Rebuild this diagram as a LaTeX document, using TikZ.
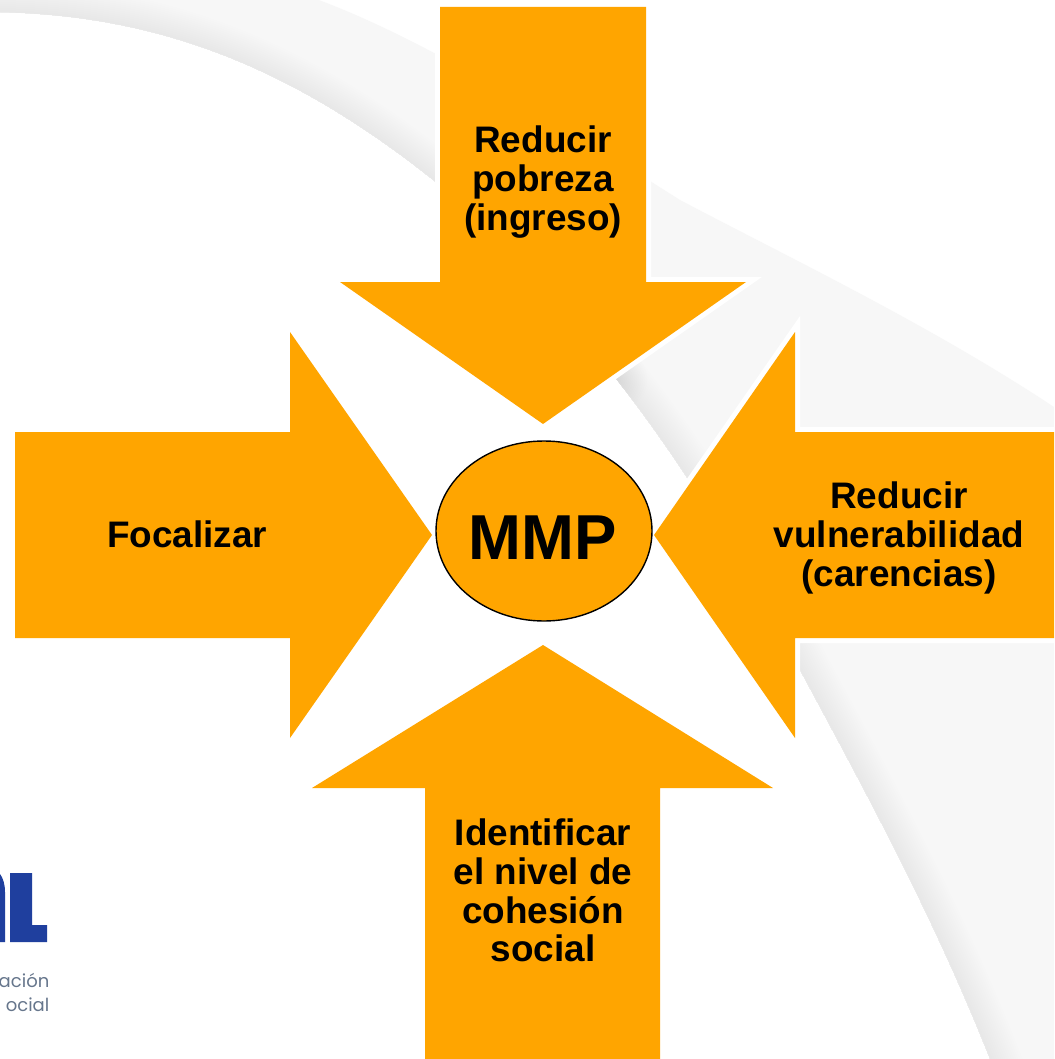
\documentclass[tikz,border=0pt]{standalone}
\usepackage{fontspec}
\setmainfont{Liberation Sans}
\newfontfamily\logofont{Poppins}
\definecolor{orangearrow}{HTML}{FFA500}
\definecolor{bandgrey}{HTML}{F7F7F7}
\definecolor{edgegrey}{HTML}{D8D8D8}
\definecolor{logoblue}{HTML}{1F3F9E}
\definecolor{logotext}{HTML}{66768C}
\tikzset{
  bigarrow/.style={fill=orangearrow,draw=none},
  halo/.style={draw=white,line width=10pt,miter limit=10},
  lbl/.style={font=\bfseries\fontsize{36.9}{38.7}\selectfont,align=center,text=black,inner sep=0pt},
  logolbl/.style={font=\logofont\fontsize{18}{25}\selectfont,text=logotext,anchor=east,inner sep=0pt},
  edgefade/.style={draw=edgegrey,line cap=round,line join=round}
}
\newcommand{\lowerA}{(-20,12) .. controls (130,12) and (270,50) .. (433,180) .. controls (500,233) and (560,310) .. (617,380)}
\newcommand{\lowerB}{(617,380) .. controls (680,460) and (745,565) .. (800,670) .. controls (870,800) and (935,920) .. (990,1059) -- (1010,1110)}
\newcommand{\arrowT}{(440,7) -- (646,7) -- (646,282) -- (746,282) -- (543,424) -- (340,282) -- (440,282) -- cycle}
\newcommand{\arrowL}{(15,432) -- (290,432) -- (290,332) -- (432,535) -- (290,738) -- (290,638) -- (15,638) -- cycle}
\newcommand{\arrowR}{(1080,432) -- (795,432) -- (795,332) -- (654,535) -- (795,738) -- (795,638) -- (1080,638) -- cycle}
\newcommand{\arrowB}{(425,1080) -- (425,788) -- (312,788) -- (543,645) -- (773,788) -- (660,788) -- (660,1080) -- cycle}
\begin{document}
\begin{tikzpicture}[x=1pt,y=-1pt]
\useasboundingbox (0,0) rectangle (1054,1059);
\clip (0,0) rectangle (1054,1059);
\fill[white] (0,0) rectangle (1054,1059);
% background sweep
\begin{scope}
  \clip (-20,12) .. controls (130,12) and (270,50) .. (433,180) .. controls (500,233) and (560,310) .. (617,380)
     .. controls (680,460) and (745,565) .. (800,670) .. controls (870,800) and (935,920) .. (990,1059) -- (1010,1110)
     -- (1100,1110) -- (1100,437) -- (1054,407)
     .. controls (930,325) and (790,258) .. (680,200) .. controls (530,105) and (400,25) .. (290,-10)
     -- (-20,-10) -- cycle;
  \fill[bandgrey] (0,0) rectangle (1054,1059);
  \foreach \w in {4,8,...,60}{
    \draw[edgefade,opacity=0.012,line width=\w pt] \lowerA;
    \draw[edgefade,opacity=0.03,line width=\w pt] \lowerB;
  }
\end{scope}
% logo fragment
\fill[logoblue] (0,874) .. controls (3,878) and (5,884) .. (5,892) -- (5,942) -- (0,942) -- cycle;
\fill[logoblue] (10,873) -- (32,873) -- (32,925) -- (47,925) -- (47,942) -- (10,942) -- cycle;
\node[logolbl] (logoa) at (49.5,980) {ación};
\node[logolbl] (logob) at (49.5,1005) {ocial};
% arrows
\draw[halo] \arrowT; \draw[halo] \arrowL; \draw[halo] \arrowR; \draw[halo] \arrowB;
\fill[bigarrow] \arrowT; \fill[bigarrow] \arrowL; \fill[bigarrow] \arrowR; \fill[bigarrow] \arrowB;
% centre
\draw[fill=orangearrow,draw=black,line width=1.4pt] (544,531) ellipse [x radius=108,y radius=90];
\node[lbl,font=\bfseries\fontsize{63.5}{70}\selectfont] (mmp) at (543,538) {MMP};
\node[lbl] (top) at (543,182) {Reducir\\pobreza\\(ingreso)};
\node[lbl] (left) at (187,534) {Focalizar};
\node[lbl] (right) at (899,538) {Reducir\\vulnerabilidad\\(carencias)};
\node[lbl] (bottom) at (543,890.5) {Identificar\\el nivel de\\cohesión\\social};
\end{tikzpicture}
\end{document}
